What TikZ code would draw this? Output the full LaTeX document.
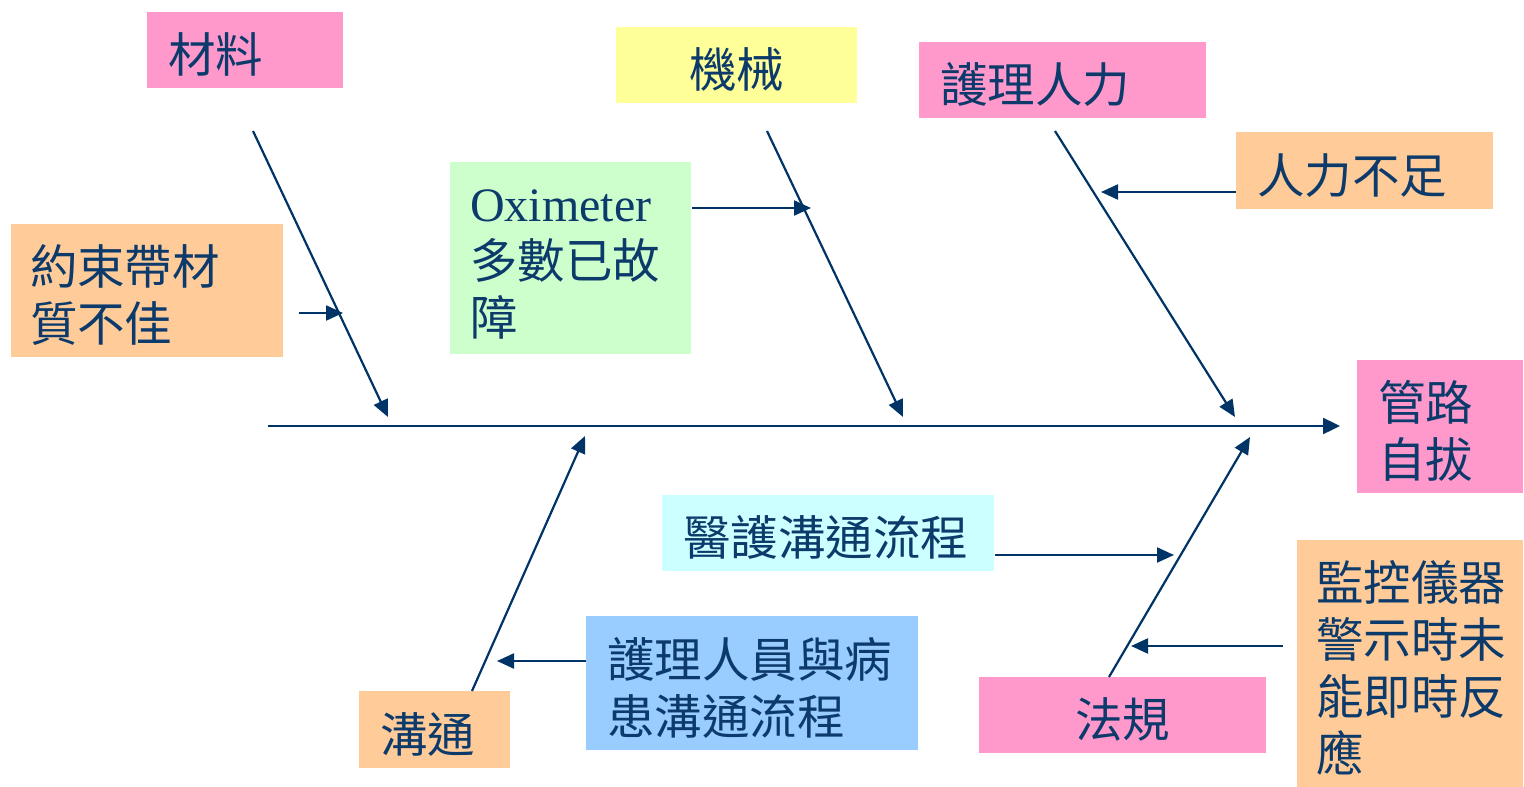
\documentclass[tikz,border=0pt]{standalone}
\usepackage{fontspec}
\setmainfont{Liberation Serif}
\newfontfamily\cjk{Noto Sans CJK TC}
\usetikzlibrary{arrows.meta}
\definecolor{navy}{HTML}{0B3A6B}
\definecolor{linec}{HTML}{003366}
\definecolor{pinkc}{HTML}{FF99CC}
\definecolor{yellowc}{HTML}{FFFF99}
\definecolor{orangec}{HTML}{FFCC99}
\definecolor{greenc}{HTML}{CCFFCC}
\definecolor{cyanc}{HTML}{CCFFFF}
\definecolor{bluec}{HTML}{99CCFF}
\begin{document}
\begin{tikzpicture}[x=1pt,y=-1pt,
  cbox/.style={draw=none, text=navy, inner xsep=21pt, inner ysep=0pt, text height=49pt,
    font=\cjk\fontsize{47.5}{57}\selectfont, align=left},
  arr/.style={draw=linec, line width=2.2pt, -{Triangle[length=17pt,width=15pt]}},
  spine/.style={draw=linec, line width=2.4pt, -{Triangle[length=17pt,width=16pt]}}]
\useasboundingbox (0,0) rectangle (1524,787);

% boxes
\node[cbox, fill=pinkc, text width=154pt, minimum width=196pt, minimum height=76pt] (cl) at (245,50) {材料};
\node[cbox, fill=yellowc, align=center, text width=199pt, minimum width=241pt, minimum height=76pt] (jx) at (736.5,65) {機械};
\node[cbox, fill=pinkc, text width=245pt, minimum width=287pt, minimum height=76pt] (hl) at (1062.5,80) {護理人力};
\node[cbox, fill=orangec, text width=215pt, minimum width=257pt, minimum height=77pt] (rl) at (1364.5,170.5) {人力不足};
\node[cbox, fill=orangec, inner xsep=19pt, text width=234pt, minimum width=272pt, minimum height=133pt] (ys) at (147,290.5) {約束帶材\\質不佳};
\node[cbox, fill=greenc, inner xsep=20pt, text width=201pt, minimum width=241pt, minimum height=192pt, text height=44pt] (ox) at (570.5,258) {{\rmfamily\fontsize{48}{57}\selectfont Oximeter}\\多數已故\\障};
\node[cbox, fill=pinkc, text width=124pt, minimum width=166pt, minimum height=133pt] (gl) at (1440,426.5) {管路\\自拔};
\node[cbox, fill=cyanc, text width=290pt, minimum width=332pt, minimum height=76pt] (yh) at (828,533) {醫護溝通流程};
\node[cbox, fill=orangec, inner xsep=19pt, text width=188pt, minimum width=226pt, minimum height=247pt] (jk) at (1410,663.5) {監控儀器\\警示時未\\能即時反\\應};
\node[cbox, fill=bluec, text width=290pt, minimum width=332pt, minimum height=134pt] (hr) at (752,683) {護理人員與病\\患溝通流程};
\node[cbox, fill=orangec, text width=109pt, minimum width=151pt, minimum height=77pt] (gt) at (434.5,729.5) {溝通};
\node[cbox, fill=pinkc, align=center, text width=245pt, minimum width=287pt, minimum height=76pt] (fg) at (1122.5,715) {法規};

% coordinates
\coordinate (sp0) at (268,426);
\coordinate (sp1) at (1340,426);
\coordinate (b1s) at (253,131);
\coordinate (b1e) at (388,417);
\coordinate (b2s) at (767,131);
\coordinate (b2e) at (903,417);
\coordinate (b3s) at (1055,131);
\coordinate (b3e) at (1235,417);
\coordinate (b4s) at (472,691);
\coordinate (b4e) at (585,436);
\coordinate (b5s) at (1109,677);
\coordinate (b5e) at (1250,437);
\coordinate (a1s) at (299,313);
\coordinate (a1e) at (343,313);
\coordinate (a2s) at (692,208);
\coordinate (a2e) at (811,208);
\coordinate (a3s) at (1236,192);
\coordinate (a3e) at (1101,192);
\coordinate (a4s) at (586,661);
\coordinate (a4e) at (497,661);
\coordinate (a5s) at (995,555);
\coordinate (a5e) at (1174,555);
\coordinate (a6s) at (1283,646);
\coordinate (a6e) at (1131,646);

% connectors
\draw[spine] (sp0) -- (sp1);
\draw[arr] (b1s) -- (b1e);
\draw[arr] (b2s) -- (b2e);
\draw[arr] (b3s) -- (b3e);
\draw[arr] (b4s) -- (b4e);
\draw[arr] (b5s) -- (b5e);
\draw[arr] (a1s) -- (a1e);
\draw[arr] (a2s) -- (a2e);
\draw[arr] (a3s) -- (a3e);
\draw[arr] (a4s) -- (a4e);
\draw[arr] (a5s) -- (a5e);
\draw[arr] (a6s) -- (a6e);
\end{tikzpicture}
\end{document}
